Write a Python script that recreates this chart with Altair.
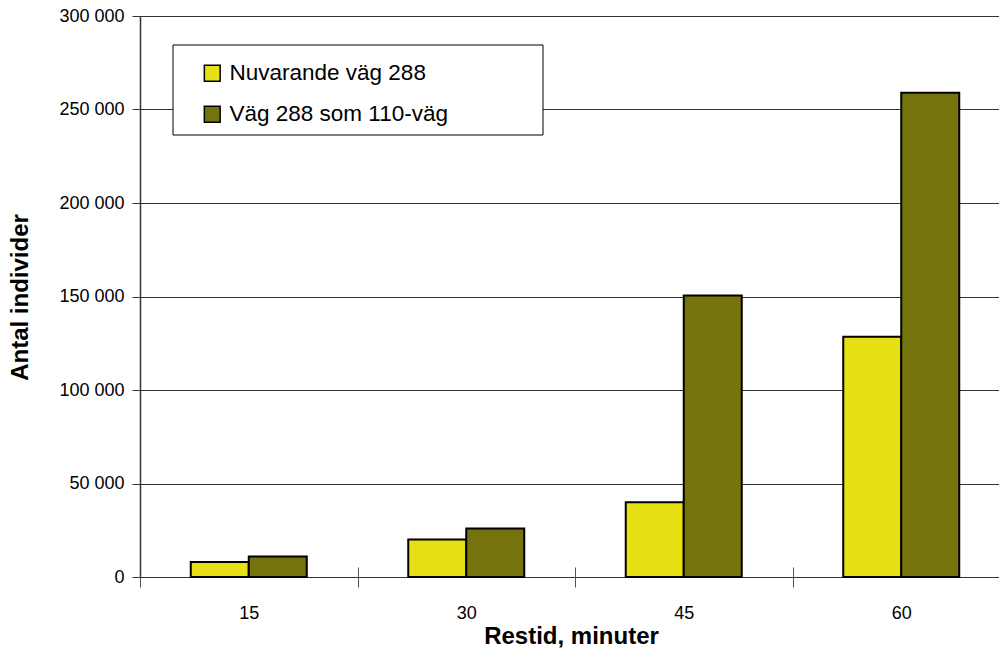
import altair as alt
import pandas as pd

# Travel time bands (minutes) and number of individuals reached
restid = ["15", "30", "45", "60"]
nuvarande = [8000, 20000, 40000, 128500]
som_110 = [11000, 26000, 150500, 259000]
serier = ["Nuvarande väg 288", "Väg 288 som 110-väg"]
farger = ["#E6E015", "#75730C"]

rows = []
for i, t in enumerate(restid):
    rows.append({"restid": t, "serie": serier[0], "antal": nuvarande[i], "ordning": 0})
    rows.append({"restid": t, "serie": serier[1], "antal": som_110[i], "ordning": 1})
df = pd.DataFrame(rows)

FONT = "Liberation Sans"

bars = alt.Chart(df).mark_bar(stroke="black", strokeWidth=2).encode(
    x=alt.X(
        "restid:N",
        sort=restid,
        title="Restid, minuter",
        # the category axis runs a little past the right edge of the page
        scale=alt.Scale(paddingInner=0, paddingOuter=0, range=[0, 870]),
        axis=alt.Axis(
            labelAngle=0,
            tickBand="extent",
            tickSize=20,
            offset=-10,
            domain=False,
            tickColor="#555555",
            tickWidth=1,
            labelPadding=17,
            labelFontSize=18,
            labelFont=FONT,
            labelColor="black",
            titleFont=FONT,
            titleFontSize=24,
            titleFontWeight="bold",
            titleColor="black",
            titleX=431,
            titleY=69,
            titleBaseline="middle",
            grid=False,
        ),
    ),
    xOffset=alt.XOffset(
        "serie:N",
        sort=serier,
        scale=alt.Scale(paddingInner=0, paddingOuter=0.875),
    ),
    y=alt.Y(
        "antal:Q",
        title="Antal individer",
        scale=alt.Scale(domain=[0, 300000], nice=False),
        axis=alt.Axis(
            values=[0, 50000, 100000, 150000, 200000, 250000, 300000],
            labelExpr="datum.value == 0 ? '0' : format(datum.value / 1000, 'd') + ' 000'",
            tickSize=8,
            tickColor="#333333",
            domainColor="#333333",
            domainWidth=1.5,
            gridColor="#333333",
            gridWidth=1,
            labelPadding=8,
            labelFontSize=18,
            labelFont=FONT,
            labelColor="black",
            titleFont=FONT,
            titleFontSize=24,
            titleFontWeight="bold",
            titleColor="black",
            titleAngle=-90,
            titleX=-120,
            titleY=281,
            titleAlign="center",
            titleBaseline="middle",
        ),
    ),
    color=alt.Color(
        "serie:N",
        sort=serier,
        scale=alt.Scale(domain=serier, range=farger),
        legend=alt.Legend(
            title=None,
            orient="none",
            legendX=61,
            legendY=46,
            direction="vertical",
            padding=0,
            symbolType="square",
            symbolSize=250,
            symbolStrokeColor="black",
            symbolStrokeWidth=1.5,
            labelFont=FONT,
            labelFontSize=22.5,
            labelColor="black",
            labelOffset=6,
            labelLimit=500,
            rowPadding=18,
        ),
    ),
    order=alt.Order("ordning:Q"),
)

# white framed box behind the legend entries
ram = alt.Chart(pd.DataFrame({"ram": [0]})).mark_rect(
    fill="white", stroke="black", strokeWidth=1
).encode(
    x=alt.value(33), x2=alt.value(403), y=alt.value(29), y2=alt.value(119)
)

chart = alt.layer(bars, ram).properties(
    width=859,
    height=561,
    autosize=alt.AutoSizeParams(type="none"),
    padding={"left": 140, "top": 16, "right": 0, "bottom": 73},
).configure_view(stroke=None).configure(background="white")

chart.save("out.html", embed_options={"renderer": "svg", "actions": False})
